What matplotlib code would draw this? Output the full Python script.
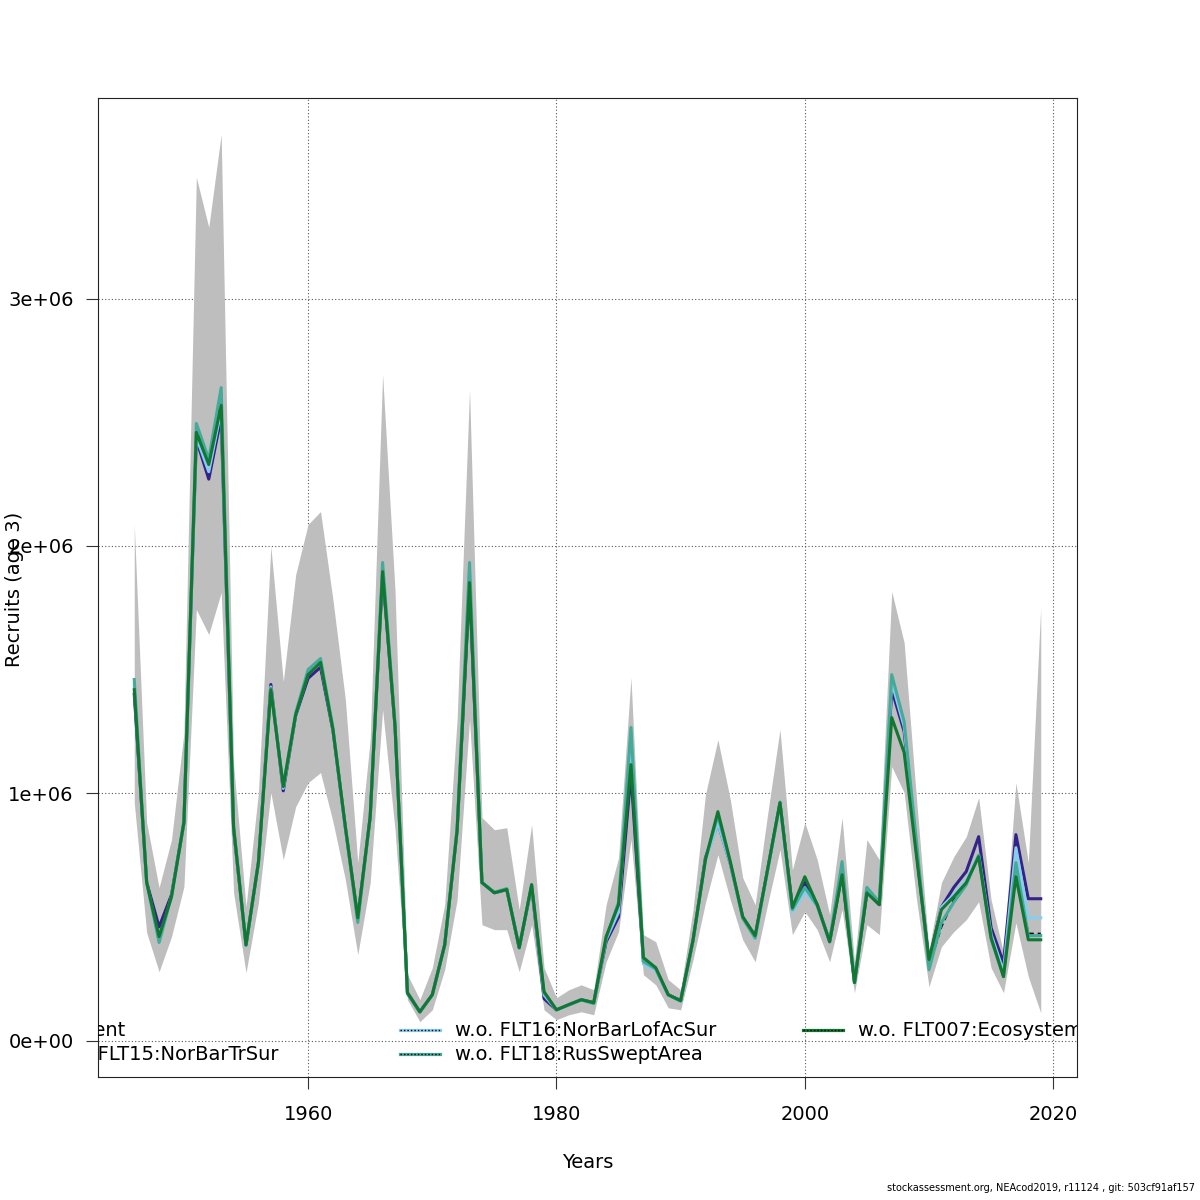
import numpy as np
import matplotlib
matplotlib.use("Agg")
import matplotlib.pyplot as plt
from matplotlib.lines import Line2D

# recruitment, million fish (age 3)
years = np.arange(1946, 2020)

current = [1.450, 0.640, 0.400, 0.585, 0.885, 2.480, 2.340, 2.620, 0.865, 0.386,
           0.722, 1.425, 1.028, 1.322, 1.495, 1.540, 1.262, 0.862, 0.485, 0.905,
           1.920, 1.275, 0.192, 0.116, 0.186, 0.387, 0.855, 1.900, 0.640, 0.599,
           0.613, 0.376, 0.630, 0.190, 0.125, 0.146, 0.166, 0.152, 0.418, 0.555,
           1.240, 0.325, 0.292, 0.186, 0.161, 0.406, 0.733, 0.915, 0.720, 0.498,
           0.420, 0.690, 0.963, 0.535, 0.640, 0.548, 0.402, 0.700, 0.235, 0.610,
           0.555, 1.420, 1.270, 0.780, 0.300, 0.460, 0.570, 0.635, 0.745, 0.415,
           0.265, 0.700, 0.433, 0.433]

ci_upper = [2.087, 0.882, 0.619, 0.813, 1.245, 3.490, 3.288, 3.664, 1.116, 0.542,
            1.003, 1.998, 1.452, 1.884, 2.087, 2.139, 1.783, 1.379, 0.720, 1.217,
            2.693, 1.820, 0.267, 0.166, 0.295, 0.550, 1.300, 2.632, 0.902, 0.853,
            0.861, 0.530, 0.873, 0.295, 0.174, 0.206, 0.226, 0.206, 0.550, 0.740,
            1.468, 0.429, 0.400, 0.247, 0.206, 0.530, 0.995, 1.217, 0.975, 0.659,
            0.550, 0.914, 1.258, 0.691, 0.882, 0.732, 0.510, 0.902, 0.319, 0.813,
            0.732, 1.816, 1.609, 0.975, 0.368, 0.639, 0.744, 0.825, 0.983, 0.570,
            0.356, 1.043, 0.720, 1.751]

ci_lower = [0.962, 0.437, 0.279, 0.421, 0.623, 1.743, 1.642, 1.812, 0.598, 0.275,
            0.558, 1.003, 0.732, 0.946, 1.043, 1.084, 0.886, 0.651, 0.348, 0.639,
            1.338, 0.853, 0.166, 0.077, 0.125, 0.287, 0.570, 1.298, 0.469, 0.449,
            0.449, 0.279, 0.469, 0.125, 0.085, 0.105, 0.117, 0.105, 0.319, 0.441,
            0.813, 0.267, 0.226, 0.133, 0.125, 0.328, 0.558, 0.752, 0.570, 0.408,
            0.319, 0.550, 0.772, 0.429, 0.522, 0.449, 0.319, 0.530, 0.194, 0.469,
            0.429, 1.108, 1.003, 0.570, 0.218, 0.380, 0.441, 0.489, 0.562, 0.295,
            0.194, 0.477, 0.259, 0.113]

wo_flt15 = [1.400, 0.640, 0.460, 0.590, 0.880, 2.430, 2.270, 2.520, 0.855, 0.388,
            0.720, 1.440, 1.010, 1.315, 1.465, 1.510, 1.255, 0.862, 0.495, 0.905,
            1.890, 1.270, 0.194, 0.117, 0.186, 0.388, 0.850, 1.840, 0.640, 0.598,
            0.611, 0.376, 0.625, 0.170, 0.125, 0.146, 0.166, 0.154, 0.400, 0.500,
            1.080, 0.320, 0.290, 0.186, 0.162, 0.405, 0.740, 0.880, 0.715, 0.500,
            0.420, 0.690, 0.960, 0.540, 0.640, 0.550, 0.400, 0.680, 0.235, 0.600,
            0.550, 1.420, 1.250, 0.760, 0.320, 0.540, 0.620, 0.684, 0.825, 0.457,
            0.315, 0.833, 0.574, 0.574]

wo_flt16 = [1.440, 0.635, 0.405, 0.580, 0.880, 2.440, 2.300, 2.550, 0.860, 0.388,
            0.720, 1.430, 1.020, 1.320, 1.485, 1.530, 1.260, 0.862, 0.490, 0.905,
            1.915, 1.275, 0.192, 0.117, 0.186, 0.388, 0.855, 1.890, 0.640, 0.598,
            0.612, 0.376, 0.630, 0.185, 0.125, 0.146, 0.166, 0.152, 0.410, 0.520,
            1.220, 0.310, 0.285, 0.185, 0.160, 0.405, 0.730, 0.880, 0.715, 0.495,
            0.415, 0.685, 0.955, 0.520, 0.600, 0.545, 0.400, 0.700, 0.235, 0.610,
            0.555, 1.450, 1.270, 0.780, 0.300, 0.540, 0.590, 0.650, 0.750, 0.430,
            0.280, 0.780, 0.497, 0.497]

wo_flt18 = [1.460, 0.640, 0.397, 0.585, 0.890, 2.495, 2.351, 2.640, 0.870, 0.385,
            0.725, 1.425, 1.030, 1.325, 1.500, 1.545, 1.265, 0.860, 0.478, 0.905,
            1.933, 1.280, 0.190, 0.115, 0.185, 0.385, 0.860, 1.933, 0.640, 0.600,
            0.615, 0.375, 0.630, 0.195, 0.125, 0.145, 0.165, 0.150, 0.415, 0.560,
            1.266, 0.320, 0.290, 0.185, 0.160, 0.405, 0.735, 0.910, 0.720, 0.495,
            0.415, 0.690, 0.965, 0.530, 0.620, 0.545, 0.405, 0.724, 0.235, 0.620,
            0.560, 1.480, 1.290, 0.800, 0.287, 0.477, 0.560, 0.630, 0.750, 0.410,
            0.260, 0.720, 0.425, 0.425]

wo_flt007 = [1.419, 0.639, 0.421, 0.582, 0.882, 2.459, 2.329, 2.568, 0.861, 0.388,
             0.720, 1.419, 1.027, 1.318, 1.480, 1.529, 1.258, 0.865, 0.497, 0.906,
             1.896, 1.270, 0.194, 0.117, 0.186, 0.388, 0.850, 1.852, 0.639, 0.598,
             0.611, 0.376, 0.631, 0.198, 0.125, 0.146, 0.166, 0.154, 0.421, 0.550,
             1.116, 0.336, 0.295, 0.186, 0.162, 0.408, 0.732, 0.926, 0.724, 0.501,
             0.425, 0.691, 0.962, 0.538, 0.663, 0.550, 0.400, 0.671, 0.235, 0.598,
             0.550, 1.306, 1.165, 0.744, 0.328, 0.530, 0.582, 0.639, 0.744, 0.417,
             0.259, 0.663, 0.408, 0.408]

labels = ["Current", "w.o. FLT15:NorBarTrSur", "w.o. FLT16:NorBarLofAcSur",
          "w.o. FLT18:RusSweptArea", "w.o. FLT007:Ecosystem"]
farger = ["black", "#332288", "#88CCEE", "#44AA99", "#117733"]
leaveout = [wo_flt15, wo_flt16, wo_flt18, wo_flt007]

ytick_vals = [0, 1e6, 2e6, 3e6]
ytick_labels = ["0e+00", "1e+06", "2e+06", "3e+06"]
xtick_vals = [1960, 1980, 2000, 2020]

plt.rcParams['font.family'] = ['DejaVu Sans']
fig = plt.figure(figsize=(12, 12), dpi=100)
ax = fig.add_axes([98/1200, 1 - 1077/1200, 979/1200, 979/1200])

mill = 1e6
up = np.array(ci_upper) * mill
lo = np.array(ci_lower) * mill

# konfidensbånd
ax.fill_between(years, lo, up, color="#BEBEBE", lw=0, zorder=1)
ax.plot(years, np.array(current) * mill, color="black", lw=1.4,
        dashes=(3, 2), zorder=2)
for serie, col in zip(leaveout, farger[1:]):
    ax.plot(years, np.array(serie) * mill, color=col, lw=2.2, zorder=3)

# R style range (4 % extension)
xr = years.max() - years.min()
ax.set_xlim(years.min() - 0.04 * xr, years.max() + 0.04 * xr)
ymax = up.max()
ax.set_ylim(-0.04 * ymax, ymax * 1.04)

ax.set_xticks(xtick_vals)
ax.set_yticks(ytick_vals)
ax.set_yticklabels(ytick_labels)
ax.tick_params(direction="out", length=8.5, width=0.8, labelsize=14, color="#333333")
ax.tick_params(axis="x", pad=12)
ax.tick_params(axis="y", pad=9)
for s in ax.spines.values():
    s.set_linewidth(0.8)
    s.set_color("#222222")
ax.grid(True, color="#555555", lw=0.8, linestyle=(0, (1, 2)), zorder=0)
ax.set_axisbelow(True)

fig.text(0.49, 1 - 1162/1200, "Years", ha="center", va="center", fontsize=14)
fig.text(15/1200, 1 - 589/1200, "Recruits (age 3)", rotation=90,
         ha="center", va="center", fontsize=14)
fig.text(0.996, 0.006, "stockassessment.org, NEAcod2019, r11124 , git: 503cf91af157",
         ha="right", va="bottom", fontsize=7)

# legend drawn inside plot region, clipped like the R version
def px_x(p):
    return (p - 98) / 979.0

def px_y(p):
    return (1077 - p) / 979.0

kol_x = [-2, 400, 803]
rad_y = [1030, 1054]
for i, (lab, col) in enumerate(zip(labels, farger)):
    kol = i // 2
    rad = i % 2
    x0 = kol_x[kol]
    yy = px_y(rad_y[rad])
    l1 = Line2D([px_x(x0), px_x(x0 + 40)], [yy, yy], color=col, lw=2.3,
                transform=ax.transAxes, clip_on=True, zorder=5)
    ax.add_line(l1)
    if i > 0:
        l2 = Line2D([px_x(x0), px_x(x0 + 40)], [yy, yy], color="black", lw=1.0,
                    linestyle=(0, (1, 1.5)), transform=ax.transAxes,
                    clip_on=True, zorder=6)
        ax.add_line(l2)
    ax.text(px_x(x0 + 55), yy, lab, transform=ax.transAxes, fontsize=14,
            ha="left", va="center", clip_on=True, zorder=6)

plt.savefig("out.png", dpi=100)
